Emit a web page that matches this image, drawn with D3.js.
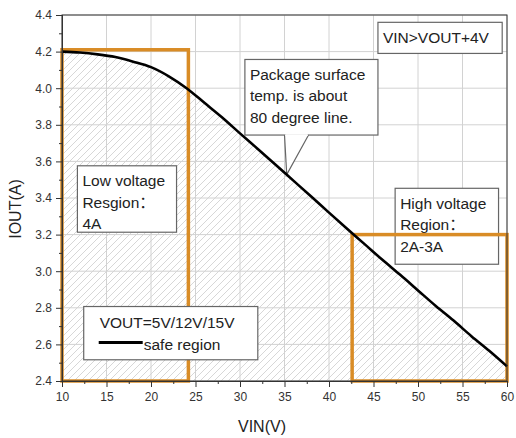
<!DOCTYPE html>
<html>
<head>
<meta charset="utf-8">
<script src="https://cdn.jsdelivr.net/npm/d3@7"></script>
<style>
  body { margin: 0; background: #fff; }
  svg { font-family: "Liberation Sans", Arial, "Noto Sans CJK SC", sans-serif; }
</style>
</head>
<body>
<svg id="chart" width="516" height="438"></svg>
<script>
// DATA
const vin = [10, 12, 14, 16, 18, 20, 22, 24, 26, 28, 30, 32, 34, 36, 38, 40, 42, 44, 46, 48, 50, 52, 54, 56, 58, 60];
const iout = [4.20, 4.195, 4.185, 4.17, 4.145, 4.115, 4.065, 4.00, 3.92, 3.84, 3.753, 3.668, 3.582, 3.495, 3.408, 3.32, 3.233, 3.148, 3.062, 2.98, 2.895, 2.81, 2.73, 2.645, 2.565, 2.48];
const xTickValues = [10, 15, 20, 25, 30, 35, 40, 45, 50, 55, 60];
const yTickValues = [2.4, 2.6, 2.8, 3.0, 3.2, 3.4, 3.6, 3.8, 4.0, 4.2, 4.4];
const xMinorValues = [12.5, 17.5, 22.5, 27.5, 32.5, 37.5, 42.5, 47.5, 52.5, 57.5];
const yMinorValues = [2.5, 2.7, 2.9, 3.1, 3.3, 3.5, 3.7, 3.9, 4.1, 4.3];

// regions: [vin from, vin to, iout from, iout to]
const lowRegion = [10, 24.2, 2.4, 4.21];
const highRegion = [42.6, 60, 2.4, 3.2];

// annotation boxes: [x0, x1, y0(top), y1(bottom)] in data units, lines of text
const notes = [
  { box: [45.5, 59.46, 4.36, 4.19], lines: ["VIN>VOUT+4V"] },
  { box: [30.55, 45.5, 4.157, 3.744], lines: ["Package surface", "temp. is about", "80 degree line."] },
  { box: [11.73, 22.87, 3.576, 3.213], lines: ["Low voltage", "Resgion：", "4A"] },
  { box: [47.43, 59.05, 3.453, 3.038], lines: ["High voltage", "Region：", "2A-3A"] }
];
const pointerTip = 35.25;

// LAYOUT
const W = 516, H = 438;
const margin = { top: 15, right: 9, bottom: 57, left: 62 };
const iw = W - margin.left - margin.right;
const ih = H - margin.top - margin.bottom;
const orange = "#d98c26";
const textFont = "'Liberation Sans', Arial, 'Noto Sans CJK SC', sans-serif";

const svg = d3.select("#chart");

const x = d3.scaleLinear().domain([10, 60]).range([0, iw]);
const y = d3.scaleLinear().domain([2.4, 4.4]).range([ih, 0]);

// hatch pattern
const defs = svg.append("defs");
defs.append("pattern")
  .attr("id", "hatch")
  .attr("patternUnits", "userSpaceOnUse")
  .attr("width", 7)
  .attr("height", 7)
  .append("path")
  .attr("d", "M-1,1 l2,-2 M0,7 l7,-7 M6,8 l2,-2")
  .attr("stroke", "#d3d3d3")
  .attr("stroke-width", 0.9);

const g = svg.append("g").attr("transform", `translate(${margin.left},${margin.top})`);

// grid
g.selectAll(".gx").data(xTickValues).join("line")
  .attr("x1", d => x(d)).attr("x2", d => x(d))
  .attr("y1", 0).attr("y2", ih)
  .attr("stroke", "#d2d2d2").attr("stroke-width", 1);
g.selectAll(".gy").data(yTickValues).join("line")
  .attr("x1", 0).attr("x2", iw)
  .attr("y1", d => y(d)).attr("y2", d => y(d))
  .attr("stroke", "#d2d2d2").attr("stroke-width", 1);

const pts = vin.map((v, i) => [v, iout[i]]);

// hatched safe area
g.append("path")
  .datum(pts)
  .attr("fill", "url(#hatch)")
  .attr("d", d3.area().x(d => x(d[0])).y0(ih).y1(d => y(d[1])).curve(d3.curveMonotoneX));

// annotation boxes
notes.forEach(n => {
  const [x0, x1, y0, y1] = n.box;
  const bx = x(x0), by = y(y0), bw = x(x1) - x(x0), bh = y(y1) - y(y0);
  g.append("rect")
    .attr("x", bx).attr("y", by).attr("width", bw).attr("height", bh)
    .attr("fill", "#fff").attr("stroke", "#666").attr("stroke-width", 1.2);
  const lh = n.lines.length === 1 ? 0 : 21.5;
  const firstBase = n.lines.length === 1 ? by + bh / 2 + 5.5 : by + 20.5;
  n.lines.forEach((t, i) => {
    g.append("text")
      .attr("x", bx + 5)
      .attr("y", firstBase + i * lh)
      .attr("font-size", 15.5)
      .attr("font-family", textFont)
      .attr("fill", "#222")
      .text(t);
  });
});

// callout pointer of package note
{
  const pb = notes[1].box;
  const baseY = y(pb[3]);
  const tipY = y(d3.interpolate(iout[12], iout[13])((pointerTip - vin[12]) / (vin[13] - vin[12])));
  g.append("path")
    .attr("d", `M${x(35.0)},${baseY} L${x(pointerTip)},${tipY} L${x(37.7)},${baseY}`)
    .attr("fill", "#fff").attr("stroke", "#666").attr("stroke-width", 1.2);
  g.append("line")
    .attr("x1", x(35.0) + 0.8).attr("x2", x(37.7) - 0.8)
    .attr("y1", baseY).attr("y2", baseY)
    .attr("stroke", "#fff").attr("stroke-width", 1.8);
}

// orange region boxes
[lowRegion, highRegion].forEach(r => {
  g.append("rect")
    .attr("x", x(r[0])).attr("y", y(r[3]))
    .attr("width", x(r[1]) - x(r[0])).attr("height", y(r[2]) - y(r[3]))
    .attr("fill", "none").attr("stroke", orange).attr("stroke-width", 3.5);
});

// curve
g.append("path")
  .datum(pts)
  .attr("fill", "none")
  .attr("stroke", "#000")
  .attr("stroke-width", 2.6)
  .attr("d", d3.line().x(d => x(d[0])).y(d => y(d[1])).curve(d3.curveMonotoneX));

// legend
{
  const lx0 = x(12.44), lx1 = x(32.0), ly0 = y(2.807), ly1 = y(2.516);
  g.append("rect")
    .attr("x", lx0).attr("y", ly0).attr("width", lx1 - lx0).attr("height", ly1 - ly0)
    .attr("fill", "#fff").attr("stroke", "#666").attr("stroke-width", 1.2);
  g.append("text")
    .attr("x", lx0 + 16).attr("y", ly0 + 21)
    .attr("font-size", 15.5).attr("font-family", textFont).attr("fill", "#222")
    .text("VOUT=5V/12V/15V");
  g.append("line")
    .attr("x1", lx0 + 15).attr("x2", lx0 + 59)
    .attr("y1", ly0 + 36).attr("y2", ly0 + 36)
    .attr("stroke", "#000").attr("stroke-width", 3);
  g.append("text")
    .attr("x", lx0 + 60).attr("y", ly0 + 43)
    .attr("font-size", 15.5).attr("font-family", textFont).attr("fill", "#222")
    .text("safe region");
}

// frame
g.append("rect")
  .attr("x", 0).attr("y", 0).attr("width", iw).attr("height", ih)
  .attr("fill", "none").attr("stroke", "#333").attr("stroke-width", 1);

// axes
const xAxis = g.append("g").attr("transform", `translate(0,${ih})`)
  .call(d3.axisBottom(x).tickValues(xTickValues).tickSize(6).tickPadding(5).tickFormat(d3.format("d")));
const xMinor = g.append("g").attr("transform", `translate(0,${ih})`)
  .call(d3.axisBottom(x).tickValues(xMinorValues).tickSize(3).tickFormat(""));
const yAxis = g.append("g")
  .call(d3.axisLeft(y).tickValues(yTickValues).tickSize(6).tickPadding(4).tickFormat(d3.format(".1f")));
const yMinor = g.append("g")
  .call(d3.axisLeft(y).tickValues(yMinorValues).tickSize(3).tickFormat(""));

[xAxis, xMinor, yAxis, yMinor].forEach(a => {
  a.select(".domain").attr("stroke", "#333");
  a.selectAll(".tick line").attr("stroke", "#333");
  a.selectAll("text").attr("font-size", 12).attr("fill", "#333")
    .attr("font-family", textFont);
});

// axis titles
svg.append("text")
  .attr("x", 262).attr("y", 432)
  .attr("text-anchor", "middle")
  .attr("font-size", 16).attr("font-family", textFont).attr("fill", "#222")
  .text("VIN(V)");
svg.append("text")
  .attr("transform", "translate(21,209) rotate(-90)")
  .attr("text-anchor", "middle")
  .attr("font-size", 16).attr("font-family", textFont).attr("fill", "#222")
  .text("IOUT(A)");
</script>
</body>
</html>
